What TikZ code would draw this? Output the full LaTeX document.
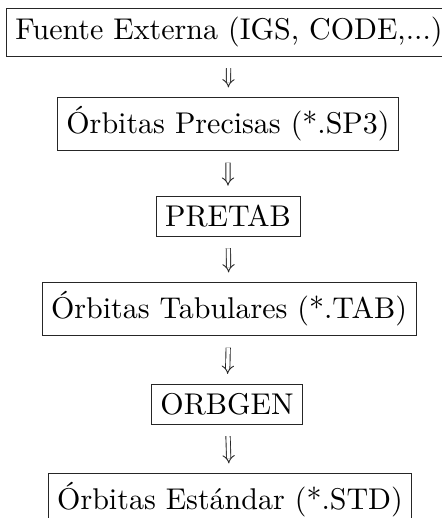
\documentclass[tikz,border=0pt]{standalone}
\usetikzlibrary{arrows.meta}
\tikzset{
  stage/.style={draw=black!85, line width=0.8pt, inner sep=3pt, font=\rmfamily},
  flow/.style={draw=black!85, line width=0.9pt, double, double distance=3.4pt,
    -{Implies[length=4pt]}, shorten <=11pt, shorten >=9pt}
}
\begin{document}
\begin{tikzpicture}
% one unit = 1pt of the finished page; text and boxes are set at 10pt and enlarged
\begin{scope}[x={(0.33333pt,0)}, y={(0,-0.33333pt)}, scale=3.0, transform shape]
  \useasboundingbox (0,0) rectangle (442,518);
  \node[stage] (src)  at (229,32)  {Fuente Externa (IGS, CODE,...)};
  \node[stage] (sp3)  at (228,124) {Órbitas Precisas (*.SP3)};
  \node[stage] (pre)  at (228,216) {PRETAB};
  \node[stage] (tab)  at (229,309) {Órbitas Tabulares (*.TAB)};
  \node[stage] (orb)  at (227,404) {ORBGEN};
  \node[stage] (std)  at (230,500) {Órbitas Estándar (*.STD)};
  \draw[flow] (src) -- (sp3);
  \draw[flow] (sp3) -- (pre);
  \draw[flow] (pre) -- (tab);
  \draw[flow] (tab) -- (orb);
  \draw[flow] (orb) -- (std);
\end{scope}
\end{tikzpicture}
\end{document}
